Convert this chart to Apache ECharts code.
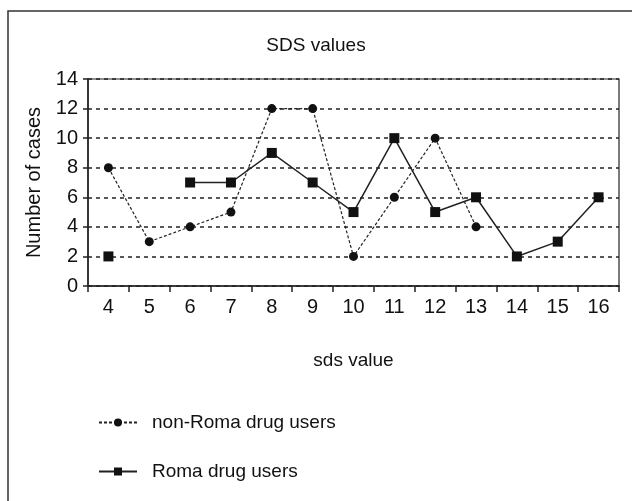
<!DOCTYPE html>
<html>
<head>
<meta charset="utf-8">
<script src="https://cdn.jsdelivr.net/npm/echarts@6/dist/echarts.min.js"></script>
<style>html,body{margin:0;padding:0;background:#fff;}#c{width:632px;height:501px;}</style>
</head>
<body>
<div id="c"></div>
<script>
var categories = ['4','5','6','7','8','9','10','11','12','13','14','15','16'];
var nonRoma = [8, 3, 4, 5, 12, 12, 2, 6, 10, 4, null, null, null];
var roma = [2, null, 7, 7, 9, 7, 5, 10, 5, 6, 2, 3, 6];
var yTicks = [0, 2, 4, 6, 8, 10, 12, 14];

var FONT = 'Liberation Sans, Arial, Helvetica, sans-serif';
var chart = echarts.init(document.getElementById('c'), null, {renderer: 'canvas'});
chart.setOption({
  animation: false,
  backgroundColor: '#fff',
  graphic: [{
    type: 'rect', shape: {x: 8, y: 11, width: 700, height: 600},
    style: {fill: 'none', stroke: '#333', lineWidth: 1.5}, silent: true
  }],
  title: {
    text: 'SDS values', left: 'center', top: 31,
    textStyle: {fontFamily: FONT, fontSize: 19, fontWeight: 'normal', color: '#111'}
  },
  grid: {left: 88, right: 13, top: 79, bottom: 215, show: true, borderColor: '#222', borderWidth: 1.2, backgroundColor: 'transparent'},
  legend: {
    orient: 'vertical', left: 93, top: 408, itemGap: 30, itemWidth: 38, itemHeight: 10,
    textStyle: {fontFamily: FONT, fontSize: 19, color: '#111', padding: [0, 0, 0, 10]},
    data: ['non-Roma drug users', 'Roma drug users']
  },
  xAxis: {
    type: 'category', data: categories, boundaryGap: true,
    name: 'sds value', nameLocation: 'middle', nameGap: 65,
    nameTextStyle: {fontFamily: FONT, fontSize: 19, color: '#111'},
    axisLine: {lineStyle: {color: '#222', width: 1.5}},
    axisTick: {show: true, alignWithLabel: false, length: 6, lineStyle: {color: '#222', width: 1.5}},
    axisLabel: {fontFamily: FONT, fontSize: 20, color: '#111', margin: 11}
  },
  yAxis: {
    type: 'value', min: 0, max: 14, interval: 2,
    name: 'Number of cases', nameLocation: 'middle', nameGap: 44, nameRotate: 90,
    nameTextStyle: {fontFamily: FONT, fontSize: 20, color: '#111'},
    axisLine: {show: true, lineStyle: {color: '#222', width: 1.5}},
    axisTick: {show: true, length: 5, lineStyle: {color: '#222', width: 1.5}},
    axisLabel: {fontFamily: FONT, fontSize: 20, color: '#111', margin: 10,
      formatter: function (v) { return yTicks.indexOf(v) >= 0 ? String(v) : ''; }},
    splitLine: {show: true, lineStyle: {color: '#222', type: [4, 4], width: 1.5}}
  },
  series: [{
    name: 'non-Roma drug users', type: 'line', data: nonRoma, connectNulls: false,
    symbol: 'circle', symbolSize: 9,
    itemStyle: {color: '#111'},
    lineStyle: {color: '#222', width: 1.2, type: [3, 2]}
  }, {
    name: 'Roma drug users', type: 'line', data: roma, connectNulls: false,
    symbol: 'rect', symbolSize: 10,
    itemStyle: {color: '#111'},
    lineStyle: {color: '#222', width: 1.5, type: 'solid'}
  }]
});
</script>
</body>
</html>
